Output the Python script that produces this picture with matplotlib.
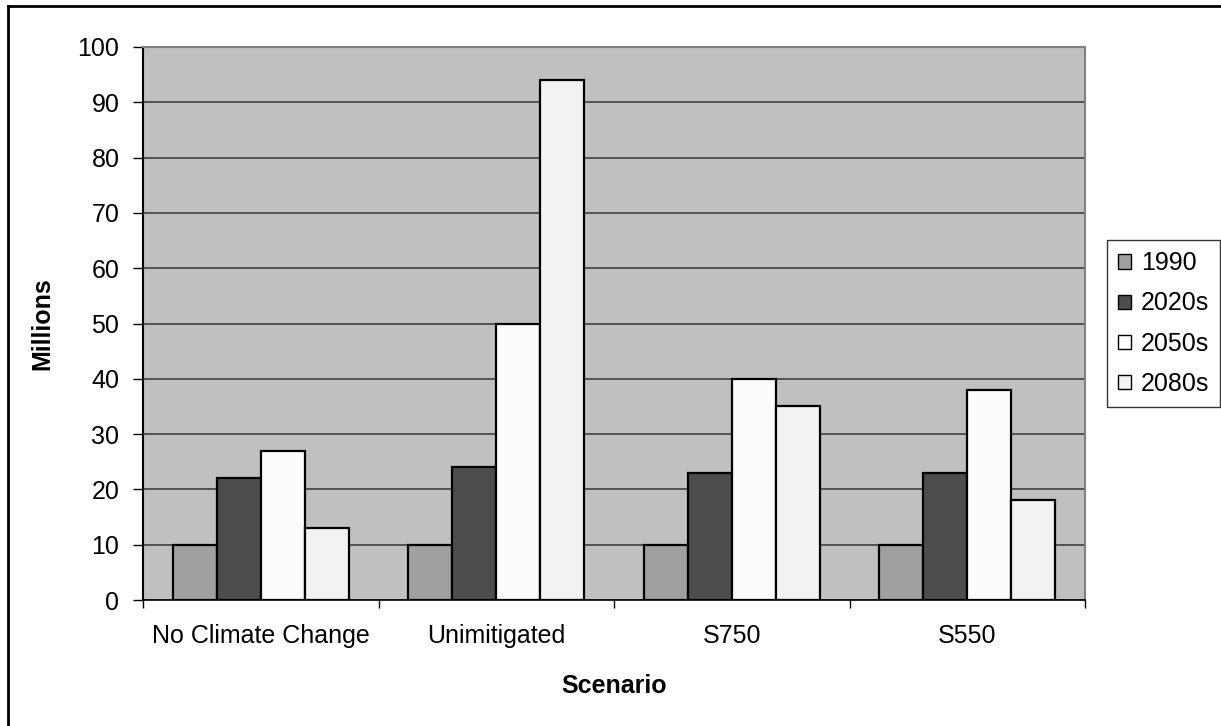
import matplotlib
matplotlib.use("Agg")
import matplotlib.pyplot as plt
from matplotlib.lines import Line2D
import numpy as np

plt.rcParams['font.family'] = ['Liberation Sans', 'DejaVu Sans']

# data
scenarios = ["No Climate Change", "Unimitigated", "S750", "S550"]
periods = ["1990", "2020s", "2050s", "2080s"]
vals_1990 = [10, 10, 10, 10]
vals_2020s = [22, 24, 23, 23]
vals_2050s = [27, 50, 40, 38]
vals_2080s = [13, 94, 35, 18]
series = [vals_1990, vals_2020s, vals_2050s, vals_2080s]
colors = ["#A0A0A0", "#4D4D4D", "#FCFCFC", "#F2F2F2"]

FS = 18

fig = plt.figure(figsize=(12.21, 7.26), dpi=100)
ax = fig.add_axes([143 / 1221, 1 - 600 / 726, 942 / 1221, 553 / 726])
ax.set_facecolor("#C0C0C0")

x = np.arange(len(scenarios))
w = 0.187
for i, (vals, c) in enumerate(zip(series, colors)):
    ax.bar(x + (i - 1.5) * w, vals, w, color=c, edgecolor="black",
           linewidth=1.6, label=periods[i], zorder=3)

ax.set_xlim(-0.5, 3.5)
ax.set_ylim(0, 100)
ax.set_yticks(range(0, 101, 10))
ax.yaxis.grid(True, color="#404040", linewidth=1.2, zorder=0)
ax.set_axisbelow(True)

# category labels centred, ticks at the boundaries
ax.set_xticks(x)
ax.set_xticklabels(scenarios, fontsize=FS)
ax.set_xticks(np.arange(-0.5, 4.0, 1.0), minor=True)
ax.tick_params(axis="x", which="major", length=0, pad=17)
ax.tick_params(axis="x", which="minor", length=6, width=1, direction="out")
ax.tick_params(axis="y", length=7, width=1, direction="out", labelsize=FS, pad=10)

for s in ["top", "right"]:
    ax.spines[s].set_color("#808080")
    ax.spines[s].set_linewidth(1.5)
ax.spines["left"].set_linewidth(1.5)
ax.spines["bottom"].set_linewidth(1.2)

ax.set_ylabel("Millions", fontsize=FS, fontweight="bold", labelpad=17)
ax.set_xlabel("Scenario", fontsize=FS, fontweight="bold", labelpad=19)

leg = fig.legend(loc="upper left", bbox_to_anchor=(1107 / 1221, 1 - 240 / 726),
                 fontsize=FS, frameon=True, fancybox=False, edgecolor="black",
                 handlelength=0.5, handleheight=0.5, handletextpad=0.4,
                 labelspacing=0.65, borderpad=0.45, borderaxespad=0)
leg.get_frame().set_linewidth(1.0)
for h in leg.legend_handles:
    h.set_linewidth(1.0)

# outer chart border (left and top edges visible)
fig.add_artist(Line2D([8 / 1221, 8 / 1221], [0, 1 - 6 / 726], color="black", linewidth=2))
fig.add_artist(Line2D([8 / 1221, 1], [1 - 6 / 726, 1 - 6 / 726], color="black", linewidth=2))

fig.savefig("out.png", dpi=100)
